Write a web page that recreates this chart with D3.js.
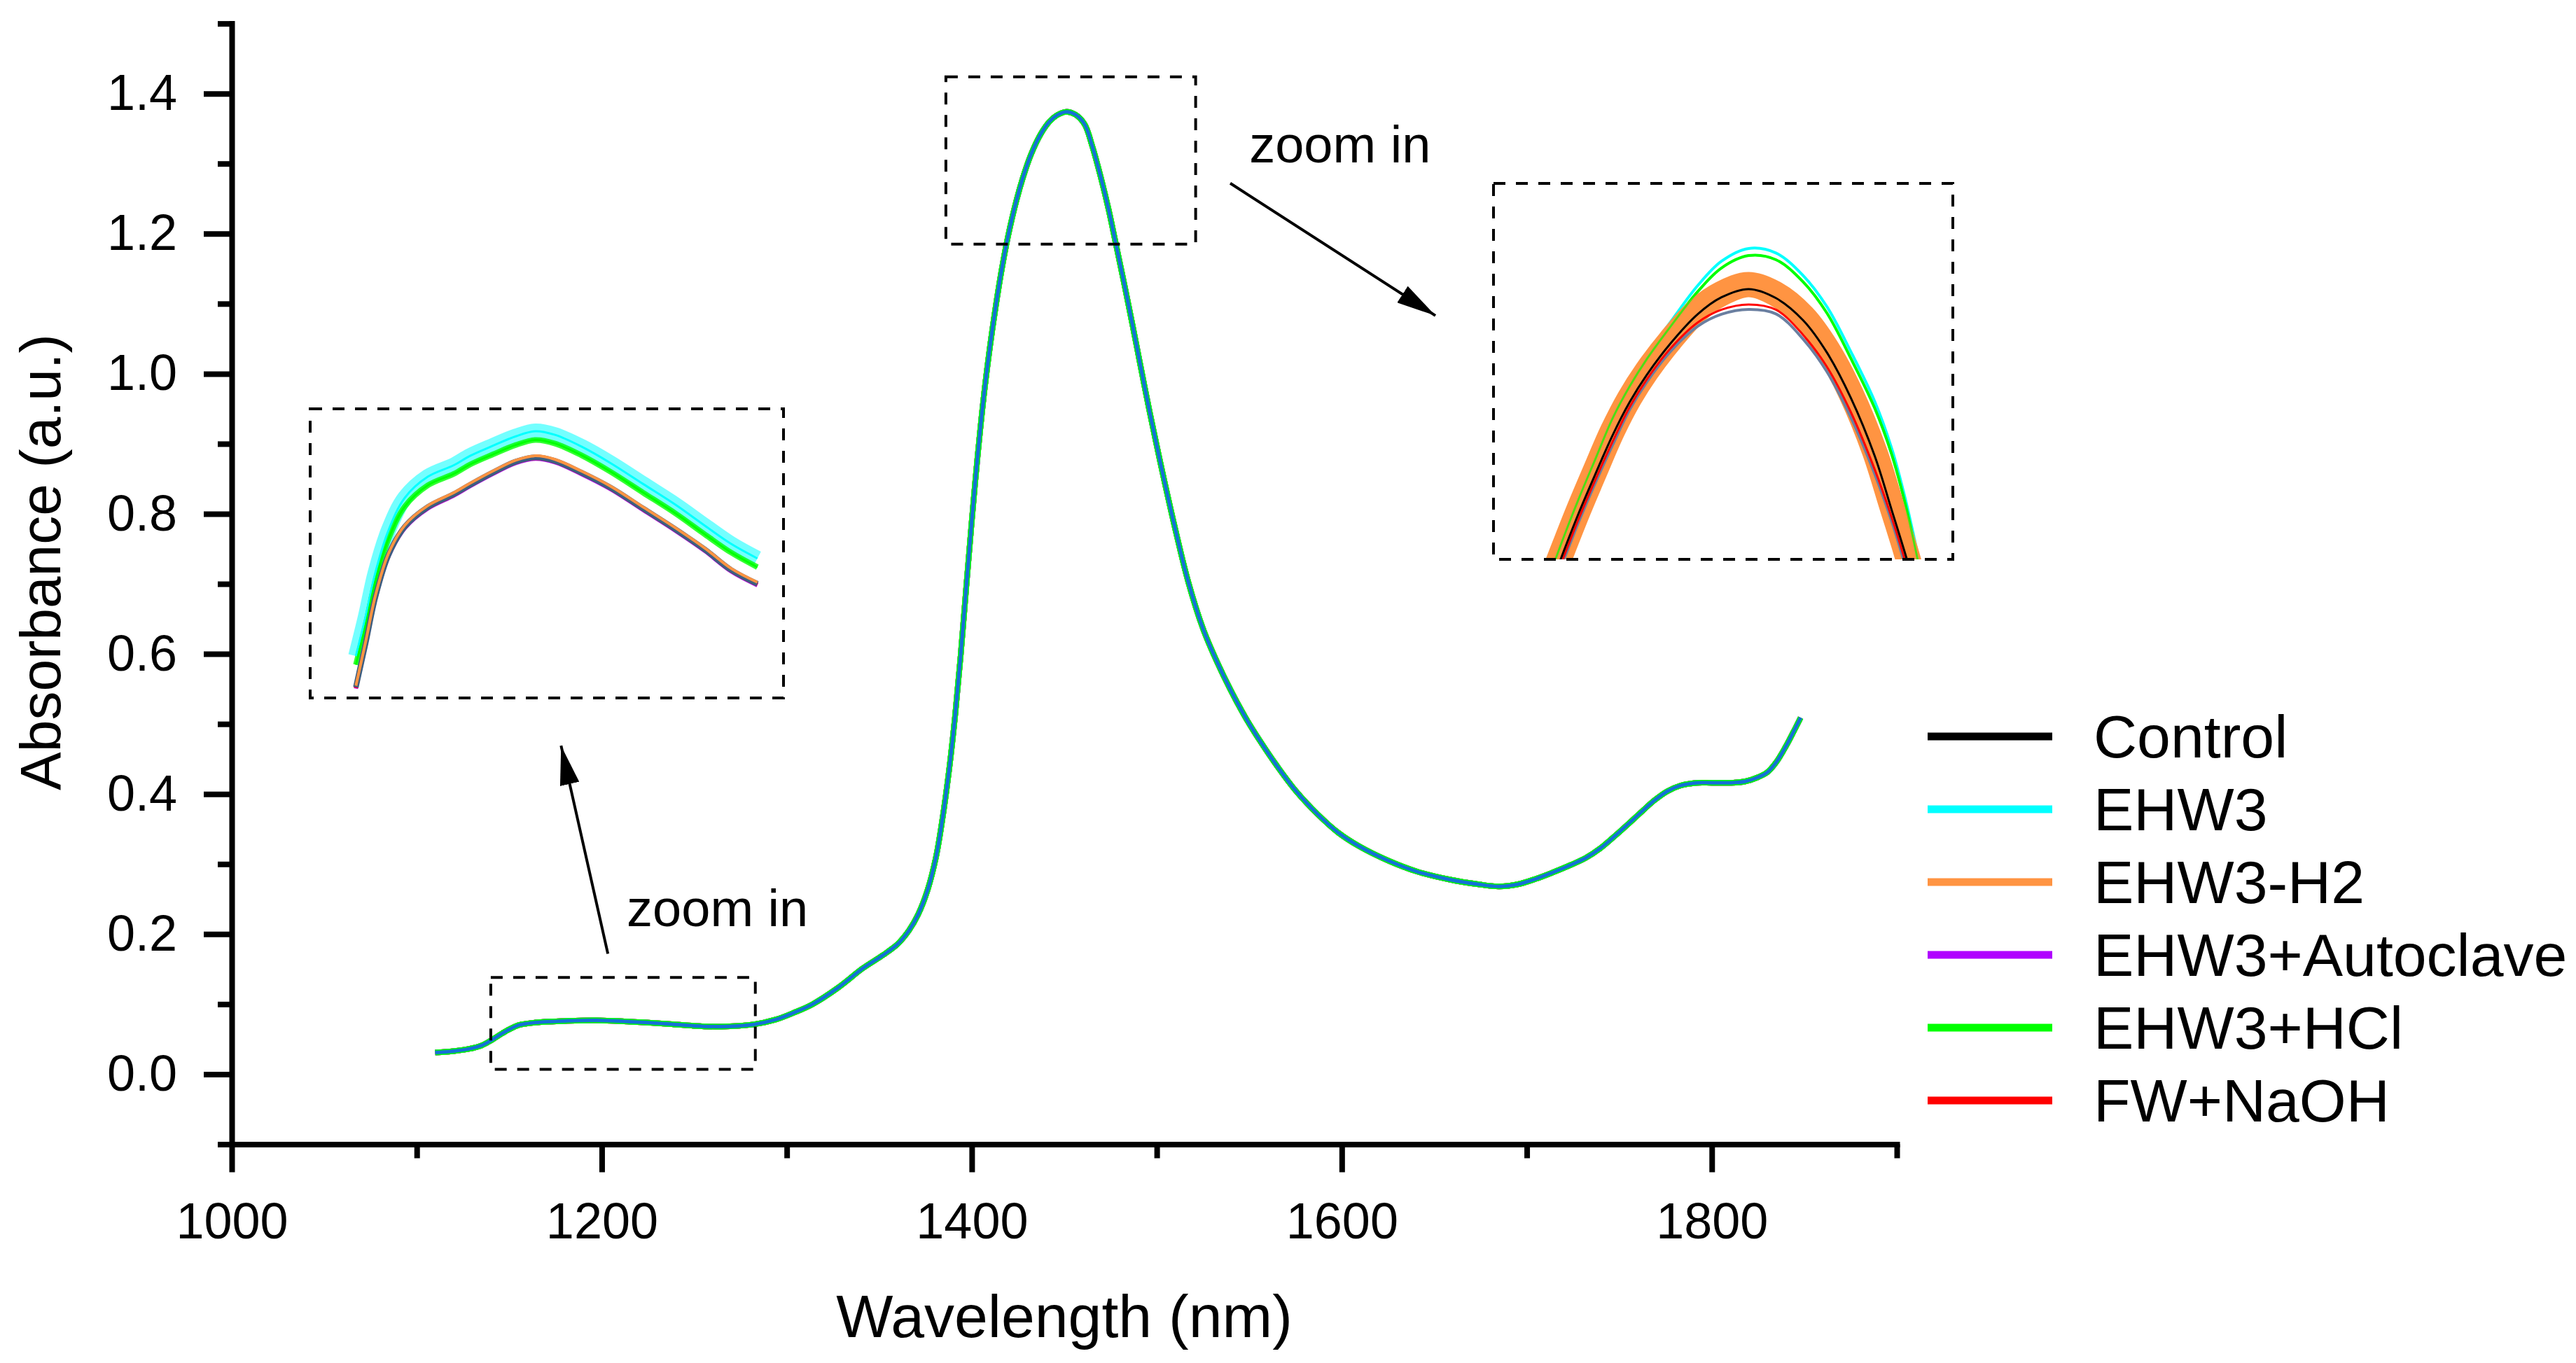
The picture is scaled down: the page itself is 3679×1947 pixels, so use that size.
<!DOCTYPE html>
<html>
<head>
<meta charset="utf-8">
<script src="https://cdn.jsdelivr.net/npm/d3@7"></script>
<style>
  body { margin: 0; background: #fff; }
  text { font-family: "Liberation Sans", Arial, sans-serif; fill: #000; }
</style>
</head>
<body>
<script>
// groups shown in the legend
const groups = ["Control", "EHW3", "EHW3-H2", "EHW3+Autoclave", "EHW3+HCl", "FW+NaOH"];
const groupColors = ["#000000", "#00FFFF", "#FF9442", "#B000FF", "#00FF00", "#FF0000"];

// main spectrum (all groups overlap at this scale)
const mainWavelength = [1110, 1120, 1128, 1135, 1140, 1146, 1150, 1155, 1165, 1180, 1197, 1215, 1235, 1250, 1264,
  1282, 1294, 1304, 1314, 1328, 1341, 1352, 1360, 1366, 1371, 1376, 1380.5, 1384, 1388, 1391, 1394, 1397, 1400,
  1403, 1406.5, 1410, 1413, 1416, 1419.5, 1424, 1428, 1432, 1437, 1442, 1446, 1451, 1456, 1461, 1465, 1469.5,
  1474, 1478, 1482.5, 1487, 1491, 1495.5, 1500, 1504, 1510, 1517, 1525, 1532.5, 1540, 1548, 1556, 1565, 1575,
  1587, 1598, 1609, 1625, 1641, 1658, 1674, 1685, 1695, 1705, 1714, 1724, 1732, 1740, 1748, 1756, 1763, 1769,
  1776, 1783, 1792, 1800, 1810, 1818, 1825, 1830, 1835, 1840, 1844, 1848];
const mainAbsorbance = [0.031, 0.033, 0.036, 0.041, 0.048, 0.058, 0.064, 0.070, 0.074, 0.076, 0.077, 0.075, 0.072,
  0.069, 0.068, 0.071, 0.078, 0.088, 0.100, 0.124, 0.151, 0.170, 0.186, 0.205, 0.228, 0.262, 0.308, 0.362, 0.440,
  0.512, 0.598, 0.695, 0.790, 0.878, 0.968, 1.042, 1.097, 1.146, 1.195, 1.246, 1.283, 1.313, 1.341, 1.360, 1.369,
  1.374, 1.370, 1.356, 1.326, 1.283, 1.234, 1.184, 1.127, 1.068, 1.014, 0.954, 0.897, 0.848, 0.778, 0.703, 0.636,
  0.589, 0.548, 0.509, 0.475, 0.440, 0.405, 0.371, 0.345, 0.326, 0.305, 0.289, 0.278, 0.271, 0.268, 0.271, 0.279,
  0.288, 0.299, 0.309, 0.323, 0.341, 0.360, 0.377, 0.391, 0.404, 0.412, 0.416, 0.416, 0.416, 0.418, 0.424, 0.431,
  0.446, 0.468, 0.488, 0.509];

// left inset (1140-1285 nm region)
const leftInsetWavelength = [1154, 1157, 1160, 1164, 1169, 1176, 1184, 1189, 1196, 1203, 1209, 1215, 1223, 1232, 1242, 1252, 1261, 1269, 1277];
const leftControl = [0.0515, 0.0576, 0.0640, 0.0698, 0.0737, 0.0764, 0.0782, 0.0795, 0.0812, 0.0827, 0.0833, 0.0828, 0.0812, 0.0791, 0.0762, 0.0733, 0.0705, 0.0677, 0.0658];
const leftEHW3 = [0.0558, 0.0613, 0.0674, 0.0732, 0.0777, 0.0806, 0.0822, 0.0835, 0.0849, 0.0862, 0.0869, 0.0864, 0.0848, 0.0825, 0.0796, 0.0767, 0.0738, 0.0713, 0.0693];
const leftEHW3H2 = [0.0517, 0.0578, 0.0642, 0.0700, 0.0739, 0.0766, 0.0784, 0.0797, 0.0814, 0.0829, 0.0835, 0.0830, 0.0814, 0.0793, 0.0764, 0.0735, 0.0707, 0.0679, 0.0660];
const leftAutoclave = [0.0513, 0.0574, 0.0638, 0.0696, 0.0735, 0.0762, 0.0780, 0.0793, 0.0810, 0.0825, 0.0831, 0.0826, 0.0810, 0.0789, 0.0760, 0.0731, 0.0703, 0.0675, 0.0656];
const leftHCl = [0.0546, 0.0601, 0.0662, 0.0720, 0.0765, 0.0794, 0.0810, 0.0823, 0.0837, 0.0850, 0.0857, 0.0852, 0.0836, 0.0813, 0.0784, 0.0755, 0.0726, 0.0701, 0.0681];
const leftNaOH = [0.0514, 0.0575, 0.0639, 0.0697, 0.0736, 0.0763, 0.0781, 0.0794, 0.0811, 0.0826, 0.0832, 0.0827, 0.0811, 0.0790, 0.0761, 0.0732, 0.0704, 0.0676, 0.0657];

// right inset (peak region)
const rightInsetWavelength = [1403, 1406, 1410, 1415, 1420, 1425, 1430, 1437, 1445, 1452, 1460, 1468, 1476, 1483, 1490, 1497, 1502, 1506, 1510];
const rightControl = [1.2958, 1.3030, 1.3122, 1.3228, 1.3330, 1.3418, 1.3490, 1.3574, 1.3652, 1.3697, 1.3719, 1.3695, 1.3636, 1.3550, 1.3430, 1.3276, 1.3132, 1.3015, 1.2890];
const rightEHW3 = [1.3011, 1.3082, 1.3173, 1.3279, 1.3387, 1.3471, 1.3544, 1.3631, 1.3728, 1.3793, 1.3827, 1.3815, 1.3755, 1.3672, 1.3553, 1.3421, 1.3296, 1.3162, 1.2999];
const rightEHW3H2 = [1.2970, 1.3040, 1.3131, 1.3238, 1.3342, 1.3429, 1.3500, 1.3583, 1.3663, 1.3707, 1.3731, 1.3706, 1.3647, 1.3561, 1.3442, 1.3287, 1.3143, 1.3027, 1.2900];
const rightAutoclave = [1.2938, 1.3007, 1.3099, 1.3205, 1.3304, 1.3398, 1.3471, 1.3553, 1.3620, 1.3652, 1.3665, 1.3653, 1.3586, 1.3499, 1.3378, 1.3228, 1.3102, 1.2984, 1.2850];
const rightHCl = [1.2995, 1.3068, 1.3160, 1.3268, 1.3375, 1.3460, 1.3532, 1.3619, 1.3712, 1.3775, 1.3808, 1.3797, 1.3738, 1.3655, 1.3535, 1.3403, 1.3280, 1.3148, 1.2985];
const rightNaOH = [1.2945, 1.3015, 1.3107, 1.3213, 1.3313, 1.3405, 1.3478, 1.3561, 1.3630, 1.3664, 1.3678, 1.3664, 1.3597, 1.3512, 1.3392, 1.3240, 1.3112, 1.2995, 1.2862];

// ticks
const xMajorTicks = [1000, 1200, 1400, 1600, 1800];
const xMinorTicks = [1100, 1300, 1500, 1700, 1900];
const yMajorTicks = [0.0, 0.2, 0.4, 0.6, 0.8, 1.0, 1.2, 1.4];
const yMinorTicks = [-0.1, 0.1, 0.3, 0.5, 0.7, 0.9, 1.1, 1.3, 1.5];

const W = 3679, H = 1947;
const svg = d3.select("body").append("svg").attr("width", W).attr("height", H);
svg.append("rect").attr("width", W).attr("height", H).attr("fill", "#fff");

const x = d3.scaleLinear().domain([1000, 1900]).range([331, 2709]);
const y = d3.scaleLinear().domain([-0.1, 1.5]).range([1634.5, 33.6]);

const line = (xs, ys, sx, sy) =>
  d3.line().x((d) => sx(d[0])).y((d) => sy(d[1])).curve(d3.curveCatmullRom.alpha(0.5))(d3.zip(xs, ys));

// axes
const axisStroke = 8;
function styleAxis(g) {
  g.select(".domain").attr("stroke-width", axisStroke).attr("stroke-linecap", "square");
  g.selectAll(".tick line").attr("stroke-width", axisStroke);
  g.selectAll(".tick text").style("font-size", "72px").attr("font-family", "Liberation Sans, Arial, sans-serif");
}

const xAxisG = svg.append("g").attr("transform", `translate(0,${y(-0.1)})`);
xAxisG.call(d3.axisBottom(x).tickValues(xMajorTicks).tickSize(40).tickSizeOuter(0).tickPadding(43).tickFormat(d3.format("d")));
xAxisG.append("g").call(d3.axisBottom(x).tickValues(xMinorTicks).tickSize(20).tickSizeOuter(0).tickFormat(""))
  .select(".domain").remove();
styleAxis(xAxisG);

const yAxisG = svg.append("g").attr("transform", `translate(${x(1000)},0)`);
yAxisG.call(d3.axisLeft(y).tickValues(yMajorTicks).tickSize(40).tickSizeOuter(0).tickPadding(38).tickFormat(d3.format(".1f")));
yAxisG.append("g").call(d3.axisLeft(y).tickValues(yMinorTicks).tickSize(20).tickSizeOuter(0).tickFormat(""))
  .select(".domain").remove();
styleAxis(yAxisG);

svg.append("text").attr("x", (x(1000) + x(1900)) / 2).attr("y", 1910)
  .attr("text-anchor", "middle").style("font-size", "86px").text("Wavelength (nm)");
svg.append("text").attr("transform", "translate(86,803) rotate(-90)")
  .attr("text-anchor", "middle").style("font-size", "82px").text("Absorbance (a.u.)");

// main spectra: groups overlap, green/cyan fringe under the blue overlay
const drawOrder = [0, 2, 3, 5, 1, 4];
drawOrder.forEach((i) => {
  svg.append("path").attr("d", line(mainWavelength, mainAbsorbance, x, y))
    .attr("fill", "none").attr("stroke", groupColors[i]).attr("stroke-width", 8);
});
svg.append("path").attr("d", line(mainWavelength, mainAbsorbance, x, y))
  .attr("fill", "none").attr("stroke", "#1570D5").attr("stroke-width", 5);

// dashed boxes
const dash = "17,15";
function dashedRect(x0, y0, x1, y1) {
  svg.append("rect").attr("x", x0).attr("y", y0).attr("width", x1 - x0).attr("height", y1 - y0)
    .attr("fill", "none").attr("stroke", "#000").attr("stroke-width", 4).attr("stroke-dasharray", dash);
}
dashedRect(x(1140), y(0.138), x(1283), y(0.007));
dashedRect(x(1386), y(1.424), x(1521), y(1.185));

// arrows
const defs = svg.append("defs");
defs.append("marker").attr("id", "arrowhead").attr("viewBox", "0 0 56 28")
  .attr("refX", 56).attr("refY", 14).attr("markerWidth", 56).attr("markerHeight", 28)
  .attr("markerUnits", "userSpaceOnUse").attr("orient", "auto")
  .append("path").attr("d", "M0,0 L56,14 L0,28 Z").attr("fill", "#000");

function arrow(a, b) {
  svg.append("line").attr("x1", x(a[0])).attr("y1", y(a[1])).attr("x2", x(b[0])).attr("y2", y(b[1]))
    .attr("stroke", "#000").attr("stroke-width", 4).attr("marker-end", "url(#arrowhead)");
}
arrow([1203.3, 0.172], [1178, 0.469]);
arrow([1539.7, 1.272], [1650.6, 1.083]);

svg.append("text").attr("x", x(1213.5)).attr("y", y(0.211)).style("font-size", "74px").text("zoom in");
svg.append("text").attr("x", x(1550)).attr("y", y(1.302)).style("font-size", "74px").text("zoom in");

// insets
function inset(id, box, xDom, yDom, wl, series) {
  const sx = d3.scaleLinear().domain(xDom).range([box.x0, box.x1]);
  const sy = d3.scaleLinear().domain(yDom).range([box.y1, box.y0]);
  defs.append("clipPath").attr("id", id).append("rect")
    .attr("x", box.x0).attr("y", box.y0).attr("width", box.x1 - box.x0).attr("height", box.y1 - box.y0);
  const g = svg.append("g").attr("clip-path", `url(#${id})`);
  series.forEach((s) => {
    g.append("path").attr("d", line(wl, s.values, sx, sy)).attr("fill", "none")
      .attr("stroke", s.color).attr("stroke-width", s.width).attr("stroke-opacity", s.opacity || 1);
  });
  dashedRect(box.x0, box.y0, box.x1, box.y1);
}

inset("clipLeft", { x0: 443, x1: 1119, y0: 584, y1: 997 }, [1140, 1285], [0.05, 0.09], leftInsetWavelength, [
  { values: leftEHW3, color: groupColors[1], width: 22, opacity: 0.55 },
  { values: leftHCl, color: groupColors[4], width: 8, opacity: 0.8 },
  { values: leftEHW3, color: groupColors[1], width: 3 },
  { values: leftHCl, color: groupColors[4], width: 3 },
  { values: leftAutoclave, color: groupColors[3], width: 6 },
  { values: leftNaOH, color: groupColors[5], width: 6 },
  { values: leftControl, color: "#3D5F80", width: 8 },
  { values: leftEHW3H2, color: groupColors[2], width: 4 },
]);

inset("clipRight", { x0: 2133, x1: 2789, y0: 262, y1: 799 }, [1385, 1520], [1.30, 1.40], rightInsetWavelength, [
  { values: rightEHW3, color: groupColors[1], width: 4 },
  { values: rightHCl, color: groupColors[4], width: 4 },
  { values: rightEHW3H2, color: groupColors[2], width: 36 },
  { values: rightAutoclave, color: "#6A7FA0", width: 4 },
  { values: rightNaOH, color: groupColors[5], width: 3 },
  { values: rightControl, color: groupColors[0], width: 3 },
  { values: rightHCl, color: groupColors[4], width: 3, opacity: 0.7 },
]);

// legend
const legend = svg.append("g").selectAll("g").data(groups).join("g")
  .attr("transform", (d, i) => `translate(2753,${1052 + i * 104})`);
legend.append("line").attr("x1", 0).attr("x2", 178).attr("y1", 0).attr("y2", 0)
  .attr("stroke", (d, i) => groupColors[i]).attr("stroke-width", 11);
legend.append("text").attr("x", 237).attr("y", 30).style("font-size", "86px").text((d) => d);
</script>
</body>
</html>
